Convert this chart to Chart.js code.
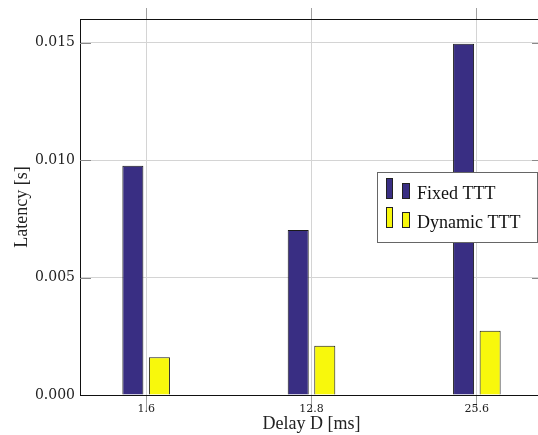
<!DOCTYPE html>
<html><head><meta charset="utf-8">
<script src="https://cdn.jsdelivr.net/npm/chart.js@4.4.1/dist/chart.umd.min.js"></script>
<style>
html,body{margin:0;padding:0;background:#fff;overflow:hidden}
#wrap{width:538px;height:435px;overflow:hidden;position:relative}
</style></head><body>
<div id="wrap"><canvas id="c" width="560" height="435" style="width:560px;height:435px"></canvas></div>
<script>
const categories = ['1.6', '12.8', '25.6'];
const fixedTTT = [0.00976, 0.00702, 0.01495];
const dynamicTTT = [0.00161, 0.00210, 0.00273];
const yTicks = [0, 0.005, 0.010, 0.015];
const seriesNames = ['Fixed TTT', 'Dynamic TTT'];
const seriesColors = ['#392E83', '#F8F80C'];
const xTitle = 'Delay D [ms]';
const yTitle = 'Latency [s]';

const xIdx = categories.map((_, i) => i);
const toPts = arr => arr.map((v, i) => ({x: xIdx[i], y: v}));

const serif = '"Liberation Serif", "Times New Roman", serif';
const tickSerif = '"DejaVu Serif", serif';

const innerTicks = {
  id: 'innerTicks',
  afterDatasetsDraw(chart) {
    const y = chart.scales.y, a = chart.chartArea, ctx = chart.ctx;
    ctx.save();
    ctx.strokeStyle = '#8a8a8a';
    ctx.lineWidth = 1;
    y.ticks.forEach(t => {
      if (t.value === y.min) return;
      const py = Math.round(y.getPixelForValue(t.value)) + 0.5;
      ctx.beginPath();
      ctx.moveTo(a.left, py); ctx.lineTo(a.left + 11, py);
      ctx.moveTo(a.right - 11, py); ctx.lineTo(a.right, py);
      ctx.stroke();
    });
    ctx.restore();
  }
};

const boxLegend = {
  id: 'boxLegend',
  afterDraw(chart) {
    const ctx = chart.ctx;
    const x0 = 377.5, y0 = 172.5, w = 160, h = 70;
    ctx.save();
    ctx.fillStyle = '#fff';
    ctx.fillRect(x0, y0, w, h);
    ctx.strokeStyle = '#666';
    ctx.lineWidth = 1;
    ctx.strokeRect(x0, y0, w, h);
    chart.data.datasets.forEach((ds, i) => {
      const base = 199 + i * 29;
      ctx.fillStyle = ds.backgroundColor;
      ctx.strokeStyle = '#222';
      ctx.fillRect(386, base - 21, 7, 21);
      ctx.strokeRect(386.5, base - 20.5, 6, 20);
      ctx.fillRect(402, base - 16, 8, 16);
      ctx.strokeRect(402.5, base - 15.5, 7, 15);
      ctx.fillStyle = '#111';
      ctx.font = '18px ' + serif;
      ctx.textBaseline = 'alphabetic';
      ctx.textAlign = 'left';
      ctx.fillText(ds.label, 417, base);
    });
    ctx.restore();
  }
};

const setXTicks = s => { s.ticks = xIdx.map(v => ({value: v})); };

new Chart(document.getElementById('c'), {
  type: 'bar',
  data: {
    datasets: [
      {label: seriesNames[0], data: toPts(fixedTTT), backgroundColor: seriesColors[0], borderColor: '#1a1a1a', borderWidth: 1},
      {label: seriesNames[1], data: toPts(dynamicTTT), backgroundColor: seriesColors[1], borderColor: '#1a1a1a', borderWidth: 1}
    ]
  },
  options: {
    responsive: false,
    animation: false,
    devicePixelRatio: 1,
    layout: {padding: {left: 0, top: 0, right: 17, bottom: 0}},
    datasets: {bar: {categoryPercentage: 0.3212, barPercentage: 0.792}},
    plugins: {legend: {display: false}, tooltip: {enabled: false}},
    scales: {
      x: {
        type: 'linear', position: 'bottom', min: -0.4, max: 2.4, offset: false, bounds: 'data',
        afterBuildTicks: setXTicks,
        afterFit: s => { s.height = 40; },
        grid: {offset: false, color: '#d4d4d4', tickColor: '#a0a0a0', tickLength: 16, drawTicks: true},
        border: {color: '#111', width: 1},
        ticks: {padding: -8, color: '#222', font: {family: tickSerif, size: 11},
          callback: v => categories[v], maxRotation: 0, autoSkip: false},
        title: {display: true, text: xTitle, color: '#222', font: {family: serif, size: 18}, padding: {top: 0, bottom: 0}}
      },
      x2: {
        type: 'linear', position: 'top', min: -0.4, max: 2.4, offset: false, bounds: 'data',
        afterBuildTicks: setXTicks,
        afterFit: s => { s.height = 19; },
        grid: {offset: false, drawOnChartArea: false, tickColor: '#a0a0a0', tickLength: 11},
        border: {color: '#111', width: 1},
        ticks: {display: false}
      },
      y: {
        min: 0, max: 0.016,
        afterBuildTicks: s => { s.ticks = yTicks.map(v => ({value: v})); },
        afterFit: s => { s.width = 80; },
        grid: {color: '#d4d4d4', drawTicks: false},
        border: {color: '#111', width: 1},
        ticks: {padding: 5, color: '#222', font: {family: tickSerif, size: 14}, callback: v => Number(v).toFixed(3)},
        title: {display: true, text: yTitle, color: '#222', font: {family: serif, size: 18}, padding: {top: 11, bottom: 0}}
      }
    }
  },
  plugins: [innerTicks, boxLegend]
});
</script>
</body></html>
